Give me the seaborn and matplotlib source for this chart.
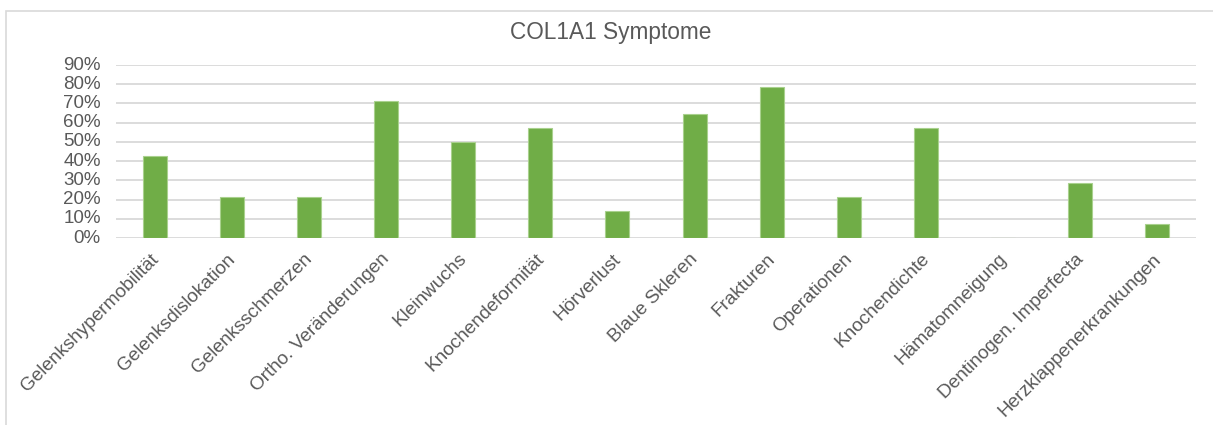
import matplotlib
matplotlib.use("Agg")
import matplotlib.pyplot as plt
from matplotlib.patches import Rectangle
from matplotlib.ticker import PercentFormatter, MultipleLocator
from matplotlib.transforms import ScaledTranslation
import seaborn as sns
import pandas as pd

symptoms = [
    "Gelenkshypermobilität", "Gelenksdislokation", "Gelenksschmerzen",
    "Ortho. Veränderungen", "Kleinwuchs", "Knochendeformität", "Hörverlust",
    "Blaue Skleren", "Frakturen", "Operationen", "Knochendichte",
    "Hämatomneigung", "Dentinogen. Imperfecta", "Herzklappenerkrankungen",
]
shares = [6/14, 3/14, 3/14, 10/14, 7/14, 8/14, 2/14,
          9/14, 11/14, 3/14, 8/14, 0.0, 4/14, 1/14]
title = "COL1A1 Symptome"

df = pd.DataFrame({"Symptom": symptoms, "Anteil": shares})

sns.set_theme(style="white")
plt.rcParams["font.family"] = ["Liberation Sans", "DejaVu Sans"]

fig = plt.figure(figsize=(12.13, 4.25), dpi=100)
fig.patch.set_facecolor("white")
# outer chart frame
fig.add_artist(Rectangle((6 / 1213, -0.1), 1.1, (425 - 11) / 425 + 0.1,
                         transform=fig.transFigure, fill=False,
                         edgecolor="#D9D9D9", linewidth=1.2))

ax = fig.add_axes([116 / 1213, 1 - 238 / 425, (1196 - 116) / 1213, (238 - 65) / 425])
sns.barplot(data=df, x="Symptom", y="Anteil", color="#70AD47", width=0.31,
            edgecolor="#A9D18E", linewidth=0.8, saturation=1, ax=ax, zorder=3)

ax.set_ylim(0, 0.9)
ax.set_xlim(-0.5, len(symptoms) - 0.5)
ax.yaxis.set_major_locator(MultipleLocator(0.1))
ax.yaxis.set_major_formatter(PercentFormatter(1.0, decimals=0))
ax.grid(axis="y", color="#D9D9D9", linewidth=1.3, zorder=0)
ax.set_axisbelow(True)
for s in ax.spines.values():
    s.set_visible(False)
ax.set_xlabel("")
ax.set_ylabel("")
ax.tick_params(axis="y", length=0, pad=11, labelsize=13.5, labelcolor="#595959")
ax.tick_params(axis="x", length=0, pad=9, labelsize=13.7, labelcolor="#595959")
ax.set_xticks(range(len(symptoms)))
ax.set_xticklabels(symptoms, rotation=45, ha="right", rotation_mode="anchor")
shift = ScaledTranslation(-5 / 100, 0, fig.dpi_scale_trans)
for lbl in ax.get_xticklabels():
    lbl.set_transform(lbl.get_transform() + shift)
for lbl in ax.get_yticklabels():
    lbl.set_verticalalignment("center")

fig.text(611 / 1213, 1 - 33 / 425, title, ha="center", va="center",
         fontsize=16.3, color="#595959")

fig.savefig("out.png", dpi=100, facecolor="white")
